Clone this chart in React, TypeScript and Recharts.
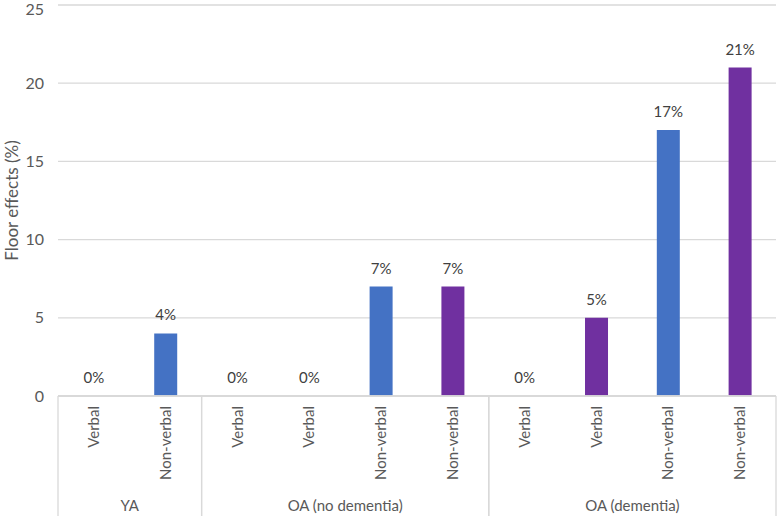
import React from 'react';
import { BarChart, Bar, XAxis, YAxis, CartesianGrid, LabelList, ReferenceLine, Cell } from 'recharts';

const categories = ['Verbal', 'Non-verbal', 'Verbal', 'Verbal', 'Non-verbal', 'Non-verbal', 'Verbal', 'Verbal', 'Non-verbal', 'Non-verbal'];
const groups = ['YA', 'YA', 'OA (no dementia)', 'OA (no dementia)', 'OA (no dementia)', 'OA (no dementia)', 'OA (dementia)', 'OA (dementia)', 'OA (dementia)', 'OA (dementia)'];
const values = [0, 4, 0, 0, 7, 7, 0, 5, 17, 21];
const series = ['a', 'a', 'a', 'a', 'a', 'b', 'a', 'b', 'a', 'b'];
const yTicks = [0, 5, 10, 15, 20, 25];

const data = categories.map((c, i) => ({
    key: i,
    name: c,
    group: groups[i],
    value: values[i],
    series: series[i]
}));

const colors: Record<string, string> = { a: '#4472c4', b: '#7030a0' };
const FONT = 'Lato, "Open Sans", sans-serif';
const LINE = '#d9d9d9';

const CategoryTick = ({ x, y, payload, index }: any) => {
    const i = index ?? payload.index;
    const bw = (payload.offset || 0) * 2;
    const group = groups[i];
    const first = i === 0 || groups[i - 1] !== group;
    const last = i === groups.length - 1 || groups[i + 1] !== group;
    const size = groups.filter(g => g === group).length;
    return (
        <g>
            <text
                x={0}
                y={0}
                transform={`translate(${x + 5},${y + 2}) rotate(-90)`}
                textAnchor="end"
                fill="#595959"
                fontSize={15}
                fontFamily={FONT}
            >
                {categories[i]}
            </text>
            {first && (
                <line x1={x - bw / 2} x2={x - bw / 2} y1={y - 8} y2={y + 120} stroke={LINE} strokeWidth={1.3} />
            )}
            {last && (
                <line x1={x + bw / 2} x2={x + bw / 2} y1={y - 8} y2={y + 120} stroke={LINE} strokeWidth={1.3} />
            )}
            {first && (
                <text
                    x={x + ((size - 1) * bw) / 2}
                    y={y + 107}
                    textAnchor="middle"
                    fill="#595959"
                    fontSize={15}
                    fontFamily={FONT}
                >
                    {group}
                </text>
            )}
        </g>
    );
};

const YLabel = ({ viewBox }: any) => {
    const cy = viewBox ? viewBox.y + viewBox.height / 2 : 200;
    return (
        <text
            transform={`translate(11,${cy}) rotate(-90)`}
            textAnchor="middle"
            dominantBaseline="central"
            fill="#595959"
            fontSize={17}
            fontFamily={FONT}
        >
            Floor effects (%)
        </text>
    );
};

const ValueLabel = ({ x, y, width, value }: any) => {
    if (x == null || value == null) return null;
    return (
        <text
            x={Number(x) + Number(width) / 2}
            y={Number(y) - 13}
            textAnchor="middle"
            fill="#404040"
            fontSize={15}
            fontFamily={FONT}
        >
            {`${value}%`}
        </text>
    );
};

export default function App() {
    return (
        <div style={{ width: 778, height: 516, background: '#fff' }}>
            <style>{`body{margin:0}`}</style>
            <BarChart
                width={778}
                height={516}
                data={data}
                margin={{ top: 5, right: 2, left: 0, bottom: 0 }}
                barCategoryGap="34%"
            >
                <CartesianGrid vertical={false} stroke={LINE} strokeWidth={1.3} />
                <XAxis
                    dataKey="key"
                    interval={0}
                    height={120}
                    axisLine={{ stroke: LINE, strokeWidth: 1.3 }}
                    tickLine={false}
                    tick={<CategoryTick />}
                />
                <YAxis
                    domain={[0, 25]}
                    ticks={yTicks}
                    width={58}
                    axisLine={false}
                    tickLine={false}
                    tickMargin={8}
                    tick={{ fill: '#595959', fontSize: 16, fontFamily: FONT }}
                    label={<YLabel />}
                />
                <Bar dataKey="value" minPointSize={0.01} isAnimationActive={false}>
                    {data.map(d => (
                        <Cell key={d.key} fill={colors[d.series]} />
                    ))}
                    <LabelList dataKey="value" content={<ValueLabel />} />
                </Bar>
                <ReferenceLine y={0} stroke={LINE} strokeWidth={1.3} />
            </BarChart>
        </div>
    );
}
